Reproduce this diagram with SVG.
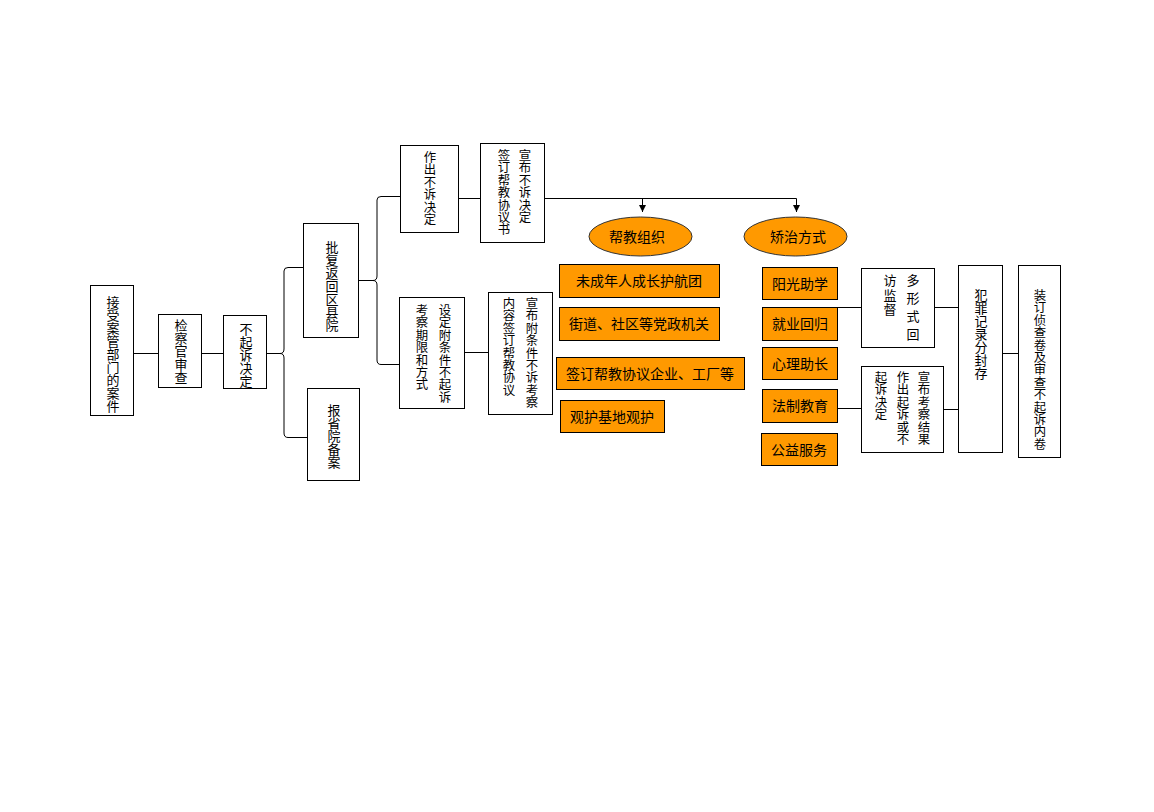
<svg xmlns="http://www.w3.org/2000/svg" width="1154" height="812" viewBox="0 0 1154 812">
<defs>
<style>
.box{fill:#fff;stroke:#000;stroke-width:1}
.obox{fill:#FF9900;stroke:#000;stroke-width:1}
.ell{fill:#FF9900;stroke:#333;stroke-width:1}
.v{font-family:"Liberation Sans","Noto Sans CJK SC",sans-serif;font-size:13px;writing-mode:vertical-rl;fill:#000}
.s{font-size:12.4px}
.h{font-family:"Liberation Sans","Noto Sans CJK SC",sans-serif;font-size:14px;text-anchor:middle;dominant-baseline:central;fill:#000}
.ln{fill:none;stroke:#000;stroke-width:1}
</style>
<marker id="arr" markerWidth="7" markerHeight="7" refX="7" refY="3.5" orient="auto" markerUnits="userSpaceOnUse"><path d="M0,0 L7,3.5 L0,7 z" fill="#000"/></marker>
</defs>
<rect width="1154" height="812" fill="#fff"/>
<g id="connectors">
<path class="ln" d="M133,353.5 H158"/>
<path class="ln" d="M201,353.5 H223"/>
<path class="ln" d="M266,353.5 H280 Q284,353.5 284,349 V271 Q284,267.5 288,267.5 H303 M280,353.5 Q284,353.5 284,358 V433 Q284,437.5 288,437.5 H307"/>
<path class="ln" d="M358,280.5 H373 Q377,280.5 377,276 V200 Q377,196.5 381,196.5 H400 M373,280.5 Q377,280.5 377,285 V360 Q377,364.5 381,364.5 H399"/>
<path class="ln" d="M458,198.5 H480"/>
<path class="ln" d="M464,352.5 H488"/>
<path class="ln" d="M544,198.5 H796.5"/>
<path class="ln" d="M642.5,198.5 V212" marker-end="url(#arr)"/>
<path class="ln" d="M796.5,198.5 V212" marker-end="url(#arr)"/>
<path class="ln" d="M837,307.5 H861"/>
<path class="ln" d="M837,408.5 H861"/>
<path class="ln" d="M934,307.5 H958"/>
<path class="ln" d="M943,409.5 H958"/>
<path class="ln" d="M1002,353.5 H1018"/>
</g>
<g id="n1"><rect class="box" x="90.5" y="285.5" width="43" height="130"/><text class="v" x="112" y="296">接受案管部门的案件</text></g>
<g id="n2"><rect class="box" x="158.5" y="314.5" width="43" height="73"/><text class="v" x="180" y="319">检察官审查</text></g>
<g id="n3"><rect class="box" x="223.5" y="315.5" width="43" height="73"/><text class="v" x="245" y="323">不起诉决定</text></g>
<g id="n4"><rect class="box" x="303.5" y="223.5" width="55" height="114"/><text class="v" x="331" y="241">批复返回区县院</text></g>
<g id="n5"><rect class="box" x="307.5" y="388.5" width="52" height="92"/><text class="v" x="333" y="404">报省院备案</text></g>
<g id="n6"><rect class="box" x="400.5" y="145.5" width="58" height="87"/><text class="v s" x="429" y="151">作出不诉决定</text></g>
<g id="n7"><rect class="box" x="480.5" y="143.5" width="64" height="99"/><text class="v s" x="524" y="149">宣布不诉决定</text><text class="v s" x="503" y="149">签订帮教协议书</text></g>
<g id="n8"><rect class="box" x="399.5" y="297.5" width="65" height="111"/><text class="v s" x="444" y="304">设定附条件不起诉</text><text class="v s" x="421" y="304">考察期限和方式</text></g>
<g id="n9"><rect class="box" x="488.5" y="292.5" width="64" height="122"/><text class="v s" x="531" y="297">宣布附条件不诉考察</text><text class="v s" x="508" y="297">内容签订帮教协议</text></g>
<g id="e1"><ellipse class="ell" cx="640.5" cy="236.5" rx="51.5" ry="19.5"/><text class="h" x="637" y="237">帮教组织</text></g>
<g id="e2"><ellipse class="ell" cx="795.5" cy="236.5" rx="51.5" ry="19.5"/><text class="h" x="798" y="237">矫治方式</text></g>
<g id="o1"><rect class="obox" x="559.5" y="264.5" width="160" height="33"/><text class="h" x="639" y="281">未成年人成长护航团</text></g>
<g id="o2"><rect class="obox" x="559.5" y="307.5" width="160" height="33"/><text class="h" x="639" y="324">街道、社区等党政机关</text></g>
<g id="o3"><rect class="obox" x="556.5" y="357.5" width="188" height="32"/><text class="h" x="650" y="373.5">签订帮教协议企业、工厂等</text></g>
<g id="o4"><rect class="obox" x="560.5" y="400.5" width="104" height="32"/><text class="h" x="612" y="416.5">观护基地观护</text></g>
<g id="r1"><rect class="obox" x="762.5" y="267.5" width="75" height="32"/><text class="h" x="800" y="283.5">阳光助学</text></g>
<g id="r2"><rect class="obox" x="762.5" y="307.5" width="75" height="33"/><text class="h" x="800" y="324">就业回归</text></g>
<g id="r3"><rect class="obox" x="762.5" y="347.5" width="75" height="32"/><text class="h" x="800" y="363.5">心理助长</text></g>
<g id="r4"><rect class="obox" x="762.5" y="389.5" width="75" height="33"/><text class="h" x="800" y="406">法制教育</text></g>
<g id="r5"><rect class="obox" x="761.5" y="433.5" width="76" height="32"/><text class="h" x="799" y="449.5">公益服务</text></g>
<g id="m1"><rect class="box" x="861.5" y="268.5" width="73" height="79"/><text class="v" x="912" y="274" style="letter-spacing:5px">多形式回</text><text class="v" x="889" y="274" style="letter-spacing:1.5px">访监督</text></g>
<g id="m2"><rect class="box" x="861.5" y="366.5" width="82" height="86"/><text class="v s" x="923" y="371">宣布考察结果</text><text class="v s" x="902" y="371">作出起诉或不</text><text class="v s" x="880" y="371">起诉决定</text></g>
<g id="k1"><rect class="box" x="958.5" y="265.5" width="44" height="187"/><text class="v" x="980" y="289">犯罪记录分封存</text></g>
<g id="k2"><rect class="box" x="1018.5" y="265.5" width="42" height="192"/><text class="v s" x="1039" y="289">装订侦查卷及审查不起诉内卷</text></g>
</svg>
